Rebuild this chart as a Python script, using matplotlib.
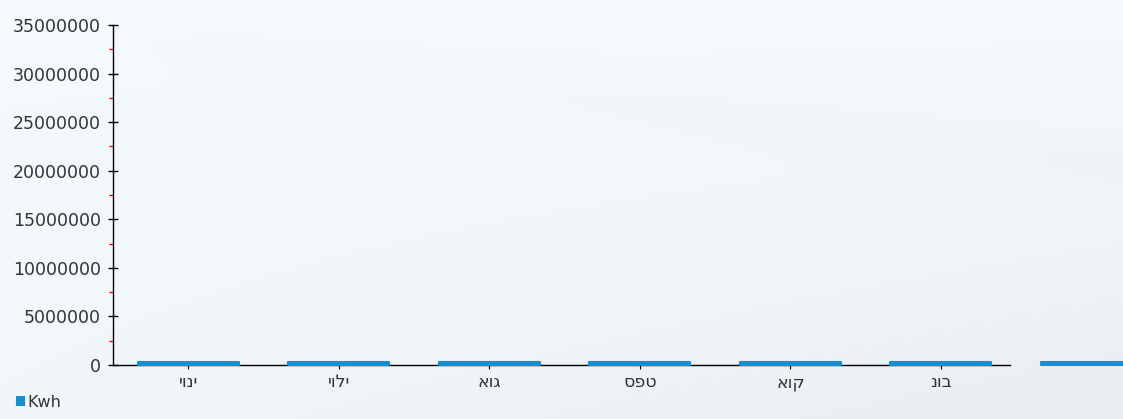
import numpy as np
import matplotlib.pyplot as plt
from matplotlib.ticker import MultipleLocator, FormatStrFormatter

months = ["יוני", "יולי", "אוג", "ספט", "אוק", "נוב", "דצמ"]
kwh = [350000, 350000, 350000, 350000, 350000, 350000, 350000]

fig = plt.figure(figsize=(11.23, 4.19), dpi=100)

# pale swoosh background
bg = fig.add_axes([0, 0, 1, 1], zorder=-10)
yy, xx = np.mgrid[0:1:200j, 0:1:400j]
base = 0.985 - 0.02 * xx * (1 - yy) - 0.012 * (1 - yy)
swoosh = -np.exp(-((yy - (0.95 - 0.35 * xx)) ** 2) / 0.004) * 0.012 * xx
swoosh2 = -np.clip((0.55 - yy - 0.5 * (1 - xx)), 0, 1) * 0.03
shade = np.clip(base + swoosh + swoosh2, 0, 1)
img = np.dstack([shade - 0.025, shade - 0.004, shade + 0.005])
bg.imshow(np.clip(img, 0, 1), aspect="auto", extent=[0, 1, 0, 1], origin="lower")
bg.axis("off")

ax = fig.add_axes([0.1006, 0.1289, 0.7988, 0.8114])
ax.patch.set_alpha(0)

x = np.arange(len(months))
bars = ax.bar(x, kwh, width=0.67, color="#1a8dce", edgecolor="#1a8dce",
              linewidth=1.5, label="Kwh", clip_on=False, zorder=3)
for b in bars:
    b.set_joinstyle("round")

ax.set_xticks(x)
ax.set_xticklabels(months, fontsize=12.5, color="#333333")
ax.set_xlim(-0.5, 5.46)
ax.set_ylim(0, 35000000)
ax.yaxis.set_major_locator(MultipleLocator(5000000))
ax.yaxis.set_minor_locator(MultipleLocator(2500000))
ax.yaxis.set_major_formatter(FormatStrFormatter("%d"))
ax.tick_params(axis="y", which="major", direction="inout", length=7, width=1,
               labelsize=12.5, labelcolor="#333333", pad=5)
ax.tick_params(axis="y", which="minor", direction="out", length=3, width=1,
               color="red")
ax.tick_params(axis="x", direction="inout", length=6, width=0.8,
               labelsize=12.5, pad=3)

for s in ["top", "right"]:
    ax.spines[s].set_visible(False)
ax.spines["left"].set_linewidth(1)
ax.spines["bottom"].set_linewidth(1)

fig.legend(handles=[bars], labels=["Kwh"], loc="lower left",
           bbox_to_anchor=(0.002, -0.012), frameon=False, fontsize=11.5,
           handlelength=0.45, handleheight=0.45, handletextpad=0.25,
           labelcolor="#333333")

plt.savefig("out.png", dpi=100)
